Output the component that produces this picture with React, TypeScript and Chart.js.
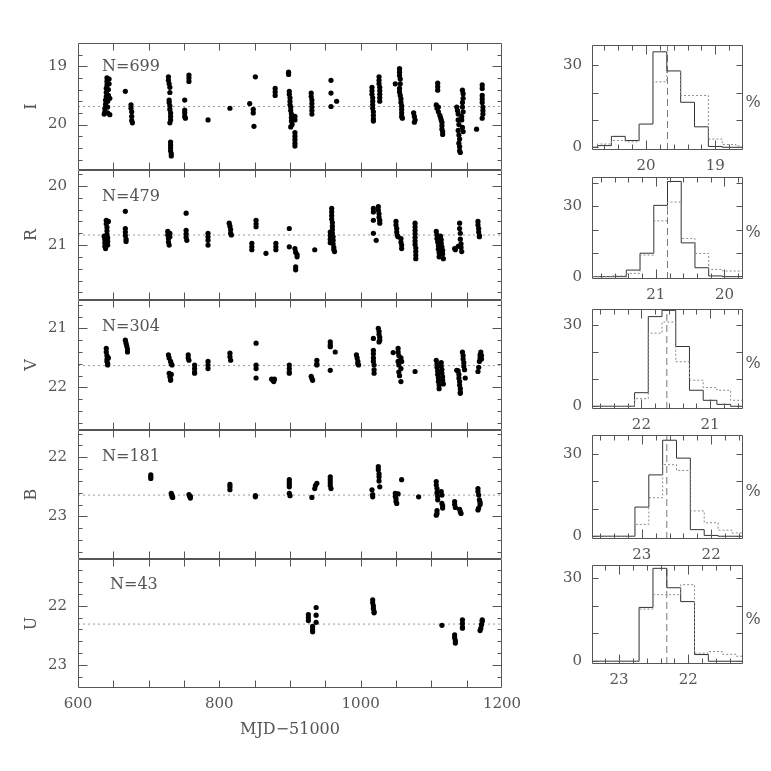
import React, { useEffect, useRef } from 'react';
import { Chart, registerables } from 'chart.js';
Chart.register(...registerables);

// ---------------- DATA ----------------
const BANDS = ['I', 'R', 'V', 'B', 'U'];
const N_OBS = [699, 479, 304, 181, 43];
const MEANS = [19.69, 20.83, 21.63, 22.64, 22.31];
// magnitude range of every panel (bright edge, faint edge)
const MAG_BRIGHT = [18.6, 19.73, 20.52, 21.54, 21.21];
const MAG_FAINT = [20.78, 21.93, 22.72, 23.72, 23.39];
const X_TICK_LABELS = [600, 800, 1000, 1200];

const I_POINTS: [number, number][] = [
  [637, 19.82], [638, 19.78], [638, 19.72], [639, 19.65], [639, 19.58], [640, 19.52], [640, 19.45], [640, 19.38],
  [641, 19.32], [641, 19.26], [641, 19.2], [642, 19.8], [642, 19.7], [642, 19.6], [643, 19.5], [643, 19.4],
  [644, 19.3], [644, 19.22], [645, 19.83], [645, 19.55],
  [667, 19.43],
  [675, 19.66], [675, 19.72], [676, 19.78], [676, 19.86], [676, 19.93], [677, 19.97],
  [728, 19.18], [728, 19.24], [729, 19.3], [730, 19.36], [730, 19.45], [729, 19.58], [729, 19.62], [730, 19.68],
  [730, 19.74], [731, 19.8], [731, 19.86], [731, 19.92], [730, 19.97], [731, 20.3], [731, 20.35], [731, 20.4],
  [731, 20.45], [732, 20.5], [732, 20.54],
  [751, 19.58], [751, 19.75], [751, 19.8], [751, 19.86], [752, 19.89],
  [757, 19.15], [757, 19.2], [757, 19.26],
  [784, 19.92], [815, 19.72],
  [843, 19.64], [848, 19.74], [848, 19.8], [849, 20.03], [851, 19.18],
  [879, 19.38], [879, 19.44], [879, 19.5],
  [898, 19.1], [898, 19.14], [899, 19.43], [899, 19.48], [900, 19.54], [900, 19.6], [900, 19.66], [901, 19.7],
  [901, 19.76], [902, 19.82], [902, 19.88], [902, 19.94], [903, 20.0], [901, 20.04], [907, 19.86], [907, 19.92],
  [907, 20.14], [907, 20.2], [907, 20.26], [907, 20.32], [907, 20.37],
  [930, 19.46], [930, 19.52], [931, 19.58], [931, 19.64], [931, 19.7], [931, 19.76], [931, 19.82],
  [958, 19.24], [958, 19.46], [958, 19.69], [966, 19.6],
  [1016, 19.36], [1016, 19.42], [1016, 19.48], [1017, 19.54], [1017, 19.6], [1017, 19.66], [1017, 19.72],
  [1018, 19.78], [1018, 19.84], [1018, 19.9], [1018, 19.94],
  [1026, 19.18], [1026, 19.24], [1026, 19.3], [1027, 19.36], [1027, 19.42], [1027, 19.48], [1027, 19.54], [1027, 19.6],
  [1049, 19.3],
  [1055, 19.04], [1055, 19.1], [1055, 19.16], [1056, 19.22], [1056, 19.3], [1055, 19.38], [1055, 19.44], [1056, 19.5],
  [1057, 19.56], [1057, 19.62], [1058, 19.68], [1058, 19.74], [1058, 19.8], [1058, 19.86], [1059, 19.89],
  [1075, 19.8], [1076, 19.86], [1077, 19.92], [1076, 19.96],
  [1109, 19.29], [1109, 19.35], [1109, 19.41], [1107, 19.66], [1108, 19.72], [1110, 19.7], [1110, 19.78],
  [1112, 19.84], [1113, 19.88], [1114, 19.92], [1115, 19.96], [1115, 20.02], [1115, 20.08], [1116, 20.12], [1116, 20.17],
  [1136, 19.7], [1137, 19.76], [1138, 19.82], [1138, 19.92], [1139, 20.0], [1138, 20.1], [1139, 20.18], [1140, 20.25],
  [1139, 20.32], [1140, 20.38], [1140, 20.45], [1141, 20.48], [1144, 19.41], [1145, 19.47], [1145, 19.55],
  [1144, 19.62], [1144, 19.7], [1145, 19.78], [1143, 19.86], [1143, 19.92], [1144, 20.05], [1145, 20.12],
  [1164, 20.08],
  [1172, 19.32], [1172, 19.38], [1172, 19.5], [1172, 19.56], [1172, 19.62], [1173, 19.7], [1173, 19.76],
  [1173, 19.82], [1172, 19.89],
];

const R_POINTS: [number, number][] = [
  [637, 20.85], [638, 20.9], [638, 20.96], [638, 21.02], [639, 21.06], [640, 20.58], [640, 20.64], [641, 20.7],
  [641, 20.76], [641, 20.82], [642, 20.88], [642, 20.94], [642, 21.0], [643, 20.6],
  [667, 20.43], [667, 20.72], [667, 20.78], [667, 20.84], [668, 20.9], [668, 20.94],
  [727, 20.77], [727, 20.83], [728, 20.89], [728, 20.95], [729, 21.0], [730, 20.8], [730, 20.86],
  [753, 20.46], [753, 20.75], [753, 20.81], [753, 20.87], [754, 20.92],
  [784, 20.8], [784, 20.86], [784, 20.92], [784, 21.0],
  [814, 20.63], [815, 20.68], [816, 20.74], [816, 20.8], [817, 20.83],
  [846, 20.97], [846, 21.03], [846, 21.08],
  [852, 20.58], [852, 20.64], [852, 20.69],
  [866, 21.14],
  [880, 20.97], [880, 21.03], [880, 21.08],
  [899, 20.72], [899, 21.03],
  [907, 21.06], [908, 21.12], [910, 21.16], [910, 21.2], [908, 21.37], [908, 21.42],
  [935, 21.08],
  [959, 20.38], [959, 20.44], [959, 20.5], [959, 20.56], [960, 20.62], [960, 20.68], [960, 20.74], [960, 20.8],
  [961, 20.86], [961, 20.92], [961, 20.98], [962, 21.04], [962, 21.08], [963, 21.11], [957, 20.78], [957, 20.84],
  [957, 20.9], [957, 20.96],
  [1018, 20.38], [1018, 20.44], [1018, 20.58], [1018, 20.8], [1022, 20.92], [1025, 20.35], [1025, 20.41],
  [1026, 20.47], [1026, 20.53], [1027, 20.58], [1027, 20.63],
  [1050, 20.6], [1050, 20.66], [1051, 20.72], [1051, 20.78], [1052, 20.84], [1053, 20.86], [1057, 20.89],
  [1057, 20.95], [1058, 21.0], [1058, 21.06],
  [1077, 20.63], [1077, 20.69], [1077, 20.75], [1077, 20.81], [1077, 20.87], [1077, 20.93], [1077, 20.99],
  [1078, 21.05], [1078, 21.11], [1078, 21.17], [1078, 21.23],
  [1107, 20.77], [1108, 20.83], [1108, 20.89], [1109, 20.95], [1110, 21.01], [1110, 21.07], [1111, 21.13],
  [1111, 21.2], [1113, 20.85], [1114, 20.91], [1114, 20.97], [1115, 21.03], [1116, 21.09], [1116, 21.15], [1117, 21.23],
  [1133, 21.06], [1134, 21.08], [1140, 20.63], [1140, 20.72], [1141, 20.8], [1141, 20.9], [1142, 20.98],
  [1142, 21.04], [1143, 21.11], [1138, 21.02],
  [1166, 20.6], [1166, 20.66], [1167, 20.72], [1167, 20.78], [1168, 20.84], [1168, 20.86],
];

const V_POINTS: [number, number][] = [
  [640, 21.34], [640, 21.4], [641, 21.46], [641, 21.52], [641, 21.56], [642, 21.6], [642, 21.62], [643, 21.5],
  [667, 21.2], [668, 21.25], [669, 21.3], [670, 21.35], [670, 21.4],
  [728, 21.45], [729, 21.5], [731, 21.56], [732, 21.6], [733, 21.62], [729, 21.76], [730, 21.82], [731, 21.86],
  [731, 21.88], [732, 21.78],
  [756, 21.45], [756, 21.5], [757, 21.54],
  [765, 21.62], [765, 21.68], [765, 21.74], [765, 21.76],
  [784, 21.56], [784, 21.62], [784, 21.68],
  [815, 21.42], [815, 21.48], [816, 21.54],
  [852, 21.25], [852, 21.62], [852, 21.68], [852, 21.84],
  [874, 21.86], [876, 21.88], [877, 21.9], [878, 21.86],
  [899, 21.62], [899, 21.68], [899, 21.74], [899, 21.76],
  [930, 21.81], [931, 21.85], [932, 21.88], [938, 21.54], [938, 21.6], [938, 21.62],
  [957, 21.23], [957, 21.28], [957, 21.31], [957, 21.71], [964, 21.4],
  [994, 21.45], [995, 21.5], [996, 21.56], [996, 21.6], [997, 21.62],
  [1018, 21.17], [1018, 21.37], [1018, 21.43], [1018, 21.5], [1018, 21.56], [1019, 21.62], [1019, 21.7],
  [1019, 21.76], [1025, 21.0], [1026, 21.05], [1026, 21.1], [1027, 21.15], [1027, 21.2], [1026, 21.23],
  [1046, 21.41], [1053, 21.34], [1053, 21.4], [1054, 21.46], [1053, 21.56], [1054, 21.62], [1054, 21.74],
  [1055, 21.8], [1057, 21.5], [1058, 21.56], [1057, 21.68], [1057, 21.9],
  [1077, 21.73],
  [1107, 21.54], [1108, 21.6], [1108, 21.66], [1109, 21.72], [1109, 21.78], [1110, 21.84], [1110, 21.9],
  [1111, 21.96], [1111, 22.02], [1114, 21.58], [1114, 21.64], [1115, 21.7], [1115, 21.76], [1116, 21.82],
  [1116, 21.88], [1117, 21.94],
  [1136, 21.71], [1138, 21.72], [1139, 21.78], [1139, 21.84], [1140, 21.9], [1140, 21.96], [1141, 22.02],
  [1141, 22.08], [1141, 22.1], [1144, 21.4], [1145, 21.46], [1145, 21.52], [1146, 21.58], [1146, 21.64],
  [1147, 21.7], [1148, 21.84],
  [1166, 21.73], [1167, 21.66], [1168, 21.56], [1169, 21.5], [1169, 21.45], [1170, 21.4], [1171, 21.46], [1171, 21.52],
];

const B_POINTS: [number, number][] = [
  [703, 22.3], [703, 22.33], [703, 22.36],
  [732, 22.61], [733, 22.64], [733, 22.67], [734, 22.68],
  [757, 22.63], [758, 22.66], [759, 22.69], [759, 22.66],
  [815, 22.46], [815, 22.5], [815, 22.55],
  [851, 22.67], [851, 22.65],
  [899, 22.38], [899, 22.42], [899, 22.46], [899, 22.5], [899, 22.61], [900, 22.65],
  [931, 22.68], [935, 22.53], [936, 22.48], [938, 22.44],
  [957, 22.33], [957, 22.38], [957, 22.43], [957, 22.48], [958, 22.53],
  [1016, 22.55], [1017, 22.63], [1017, 22.67], [1025, 22.16], [1025, 22.21], [1026, 22.28], [1026, 22.33],
  [1026, 22.4], [1027, 22.5],
  [1049, 22.61], [1049, 22.66], [1050, 22.7], [1050, 22.75], [1051, 22.78], [1053, 22.62], [1058, 22.38],
  [1082, 22.67],
  [1107, 22.41], [1107, 22.47], [1108, 22.53], [1108, 22.6], [1109, 22.66], [1109, 22.72], [1108, 22.9],
  [1108, 22.95], [1107, 22.98], [1114, 22.58], [1115, 22.64], [1115, 22.78], [1116, 22.82], [1116, 22.86],
  [1133, 22.75], [1133, 22.8], [1134, 22.85], [1140, 22.88], [1141, 22.92], [1142, 22.95],
  [1166, 22.53], [1166, 22.58], [1167, 22.64], [1168, 22.72], [1169, 22.76], [1169, 22.8], [1166, 22.89], [1167, 22.86],
];

const U_POINTS: [number, number][] = [
  [926, 22.15], [926, 22.2], [926, 22.25],
  [932, 22.35], [932, 22.4], [932, 22.44],
  [937, 22.03], [937, 22.16], [937, 22.28],
  [1017, 21.9], [1017, 21.95], [1018, 22.0], [1018, 22.05], [1019, 22.1], [1019, 22.12],
  [1115, 22.33],
  [1133, 22.49], [1133, 22.54], [1134, 22.59], [1134, 22.63],
  [1144, 22.24], [1144, 22.3], [1144, 22.36], [1144, 22.38],
  [1169, 22.42], [1170, 22.38], [1171, 22.32], [1172, 22.26], [1172, 22.24],
];

// histogram bin edges (faint -> bright) and percentages per bin
const I_EDGES = [20.9, 20.7, 20.5, 20.3, 20.1, 19.9, 19.7, 19.5, 19.3, 19.1, 18.9, 18.7, 18.5];
const I_SOLID = [0, 0.6, 4, 2.5, 8.5, 35, 28, 16.5, 7.5, 0.3, 0, 0];
const I_DOTTED = [0, 1.2, 2.5, 2, 8.5, 24, 28, 19, 19, 3, 1, 0.5];

const R_EDGES = [22.03, 21.83, 21.63, 21.43, 21.23, 21.03, 20.83, 20.63, 20.43, 20.23, 20.03, 19.83, 19.63];
const R_SOLID = [0, 0, 0, 2.8, 10, 30.4, 40.6, 14.4, 3.8, 0.3, 0, 0];
const R_DOTTED = [0, 0, 0.3, 1.4, 9.2, 23.8, 31.8, 16.3, 9.9, 3.1, 2.4, 2.4];

const V_EDGES = [22.9, 22.7, 22.5, 22.3, 22.1, 21.9, 21.7, 21.5, 21.3, 21.1, 20.9, 20.7, 20.5];
const V_SOLID = [0, 0, 0, 0, 5, 33, 35.3, 22, 5.9, 2.2, 0.7, 0];
const V_DOTTED = [0, 0, 0, 0, 2.8, 26.9, 31, 16.4, 9.6, 6.9, 5.9, 2.2];

const B_EDGES = [23.9, 23.7, 23.5, 23.3, 23.1, 22.9, 22.7, 22.5, 22.3, 22.1, 21.9, 21.7, 21.5];
const B_SOLID = [0, 0, 0, 0, 10.6, 22.3, 34.9, 28.4, 2.4, 0.3, 0, 0];
const B_DOTTED = [0, 0, 0, 0, 4.3, 14, 26, 23.9, 9.2, 4.9, 2.2, 1.2];

const U_EDGES = [23.51, 23.31, 23.11, 22.91, 22.71, 22.51, 22.31, 22.11, 21.91, 21.71, 21.51, 21.31, 21.11];
const U_SOLID = [0, 0, 0, 0, 19.4, 33.5, 26.5, 21.5, 2.4, 0, 0, 0];
const U_DOTTED = [0, 0, 0, 0, 18.8, 24, 24, 27.6, 2.9, 3.5, 2.5, 1.8];

const HIST_YMAX = [37.5, 42.5, 35.8, 36.8, 34.7];
const HIST_Y_LABELS = [0, 30];

const POINTS = [I_POINTS, R_POINTS, V_POINTS, B_POINTS, U_POINTS];
const EDGES = [I_EDGES, R_EDGES, V_EDGES, B_EDGES, U_EDGES];
const SOLID = [I_SOLID, R_SOLID, V_SOLID, B_SOLID, U_SOLID];
const DOTTED = [I_DOTTED, R_DOTTED, V_DOTTED, B_DOTTED, U_DOTTED];

// ---------------- LAYOUT / STYLE ----------------
const FONT = '"DejaVu Serif", serif';
const TEXT = '#555';
const FRAME = '#555';
const LC_LEFT = 78;
const LC_RIGHT = 502;
const LC_TOPS = [43, 170, 300, 430, 559, 688];
const H_LEFT = 592;
const H_RIGHT = 743;
const H_BOX: [number, number][] = [[45, 150], [177, 279], [309, 409], [435, 539], [565, 664]];
const N_POS: [number, number][] = [[102, 65], [102, 195], [102, 325], [102, 455], [110, 583]];

const isMult = (v: number, m: number) => Math.abs(v / m - Math.round(v / m)) < 1e-6;

// tick positions at round multiples of `step` inside the scale range
const stepTicks = (step: number) => (s: any) => {
  const lo = Math.min(s.min, s.max);
  const hi = Math.max(s.min, s.max);
  const out: { value: number }[] = [];
  const a = Math.ceil(lo / step - 1e-9);
  const b = Math.floor(hi / step + 1e-9);
  for (let i = a; i <= b; i++) out.push({ value: +(i * step).toFixed(6) });
  s.ticks = out;
};

const frameTicks = {
  id: 'frameTicks',
  afterDraw(chart: any, _a: any, o: any) {
    const { ctx, chartArea: a } = chart;
    const xs = chart.scales.x;
    const ys = chart.scales.y;
    const L = Math.round(a.left) + 0.5;
    const R = Math.round(a.right) - 0.5;
    const T = Math.round(a.top) + 0.5;
    const B = Math.round(a.bottom) - 0.5;
    ctx.save();
    ctx.strokeStyle = o.color;
    ctx.lineWidth = 1;
    ctx.beginPath();
    ctx.rect(L, T, R - L, B - T);
    for (const t of xs.ticks) {
      const px = Math.round(xs.getPixelForValue(t.value)) + 0.5;
      if (px <= L + 1 || px >= R - 1) continue;
      const len = isMult(t.value, o.xMajor) ? o.xMajLen : o.xMinLen;
      ctx.moveTo(px, B); ctx.lineTo(px, B - len);
      ctx.moveTo(px, T); ctx.lineTo(px, T + len);
    }
    for (const t of ys.ticks) {
      const py = Math.round(ys.getPixelForValue(t.value)) + 0.5;
      if (py <= T + 1 || py >= B - 1) continue;
      const len = isMult(t.value, o.yMajor) ? o.yMajLen : o.yMinLen;
      ctx.moveTo(L, py); ctx.lineTo(L + len, py);
      ctx.moveTo(R, py); ctx.lineTo(R - len, py);
    }
    ctx.stroke();
    ctx.restore();
  },
};

const noGrid = { display: false, drawTicks: false };

function lcConfig(k: number): any {
  const bottom = k === 4;
  return {
    type: 'scatter',
    data: {
      datasets: [
        {
          type: 'line',
          data: [{ x: 600, y: MEANS[k] }, { x: 1200, y: MEANS[k] }],
          borderColor: '#9a9a9a', borderWidth: 1, borderDash: [2, 3], pointRadius: 0, order: 2,
        },
        {
          data: POINTS[k].map(([x, y]) => ({ x, y })),
          backgroundColor: '#000', borderColor: '#000', pointRadius: 2.6, borderWidth: 0, order: 1,
        },
      ],
    },
    options: {
      responsive: false, animation: false, events: [],
      layout: { padding: { left: 0, right: 40, top: 6, bottom: 6 } },
      plugins: {
        legend: { display: false }, tooltip: { enabled: false },
        frameTicks: { color: FRAME, xMajor: 50, xMajLen: 7, xMinLen: 7, yMajor: 1, yMajLen: 9, yMinLen: 4 },
      },
      scales: {
        x: {
          type: 'linear', min: 600, max: 1200, grid: noGrid, border: { display: false },
          afterBuildTicks: stepTicks(50),
          ticks: {
            display: bottom, autoSkip: false, maxRotation: 0, padding: 7,
            color: TEXT, font: { family: FONT, size: 15 },
            callback: (v: number) => (X_TICK_LABELS.includes(v) ? String(v) : ''),
          },
          title: { display: bottom, text: 'MJD\u221251000', color: TEXT, font: { family: FONT, size: 16 }, padding: { top: 0, bottom: 1 } },
          afterFit: (s: any) => { s.height = bottom ? 52 : 0; s.paddingLeft = 0; s.paddingRight = 0; },
        },
        y: {
          type: 'linear', reverse: true, min: MAG_BRIGHT[k], max: MAG_FAINT[k], grid: noGrid, border: { display: false },
          afterBuildTicks: stepTicks(0.2),
          ticks: {
            autoSkip: false, padding: 11, color: TEXT, font: { family: FONT, size: 15 },
            callback: (v: number) => (isMult(v, 1) ? String(Math.round(v)) : ''),
          },
          title: { display: true, text: BANDS[k], color: TEXT, font: { family: FONT, size: 16 }, padding: { top: 22, bottom: 0 } },
          afterFit: (s: any) => { s.width = LC_LEFT; s.paddingTop = 0; s.paddingBottom = 0; },
        },
      },
    },
    plugins: [frameTicks],
  };
}

function histConfig(k: number): any {
  const edges = EDGES[k];
  const steps = (vals: number[]) => edges.map((e, i) => ({ x: e, y: vals[Math.min(i, vals.length - 1)] }));
  return {
    type: 'line',
    data: {
      datasets: [
        { data: steps(DOTTED[k]), borderColor: '#8c8c8c', borderWidth: 1, borderDash: [2, 2], stepped: true, pointRadius: 0 },
        { data: steps(SOLID[k]), borderColor: '#333', borderWidth: 1, stepped: true, pointRadius: 0 },
        {
          data: [{ x: MEANS[k], y: -1 }, { x: MEANS[k], y: HIST_YMAX[k] }],
          borderColor: '#777', borderWidth: 1, borderDash: [7, 4], pointRadius: 0,
        },
      ],
    },
    options: {
      responsive: false, animation: false, events: [],
      layout: { padding: { left: 0, right: 28, top: 6, bottom: 4 } },
      plugins: {
        legend: { display: false }, tooltip: { enabled: false },
        frameTicks: { color: FRAME, xMajor: 1, xMajLen: 9, xMinLen: 5, yMajor: 10, yMajLen: 6, yMinLen: 6 },
      },
      scales: {
        x: {
          type: 'linear', reverse: true, min: MAG_BRIGHT[k], max: MAG_FAINT[k], grid: noGrid, border: { display: false },
          afterBuildTicks: stepTicks(0.2),
          ticks: {
            autoSkip: false, maxRotation: 0, padding: 7,
            color: TEXT, font: { family: FONT, size: 15 },
            callback: (v: number) => (isMult(v, 1) ? String(Math.round(v)) : ''),
          },
          afterFit: (s: any) => { s.height = 26; s.paddingLeft = 0; s.paddingRight = 0; },
        },
        y: {
          type: 'linear', min: -1, max: HIST_YMAX[k], grid: noGrid, border: { display: false },
          afterBuildTicks: stepTicks(10),
          ticks: {
            autoSkip: false, padding: 10, color: TEXT, font: { family: FONT, size: 15 },
            callback: (v: number) => (HIST_Y_LABELS.includes(Math.round(v)) && isMult(v, 10) ? String(Math.round(v)) : ''),
          },
          afterFit: (s: any) => { s.width = 40; s.paddingTop = 0; s.paddingBottom = 0; },
        },
      },
    },
    plugins: [frameTicks],
  };
}

function ChartBox({ make, left, top, width, height }: { make: () => any; left: number; top: number; width: number; height: number }) {
  const ref = useRef<HTMLCanvasElement>(null);
  useEffect(() => {
    const chart = new Chart(ref.current as HTMLCanvasElement, make());
    return () => chart.destroy();
  }, []);
  return (
    <canvas
      ref={ref}
      width={width}
      height={height}
      style={{ position: 'absolute', left, top, width, height }}
    />
  );
}

export default function App() {
  const items: React.ReactNode[] = [];
  for (let k = 0; k < 5; k++) {
    const top = LC_TOPS[k];
    const h = LC_TOPS[k + 1] - top;
    const extra = k === 4 ? 52 : 0;
    items.push(
      <ChartBox key={'lc' + k} make={() => lcConfig(k)} left={0} top={top - 6} width={LC_RIGHT + 40} height={h + 12 + extra} />
    );
    const [ht, hb] = H_BOX[k];
    items.push(
      <ChartBox key={'h' + k} make={() => histConfig(k)} left={H_LEFT - 40} top={ht - 6} width={40 + (H_RIGHT - H_LEFT) + 28} height={hb - ht + 6 + 26 + 4} />
    );
    items.push(
      <div key={'n' + k} style={{ position: 'absolute', left: N_POS[k][0], top: N_POS[k][1], transform: 'translateY(-50%)', font: `16px ${FONT}`, color: TEXT, whiteSpace: 'nowrap' }}>
        {'N=' + N_OBS[k]}
      </div>
    );
    items.push(
      <div key={'p' + k} style={{ position: 'absolute', left: 753, top: (ht + hb) / 2 + 3, transform: 'translate(-50%,-50%)', font: `16px ${FONT}`, color: TEXT }}>
        %
      </div>
    );
  }
  return (
    <div style={{ position: 'absolute', left: 0, top: 0, width: 771, height: 771, background: '#fff', overflow: 'hidden' }}>
      {items}
    </div>
  );
}
